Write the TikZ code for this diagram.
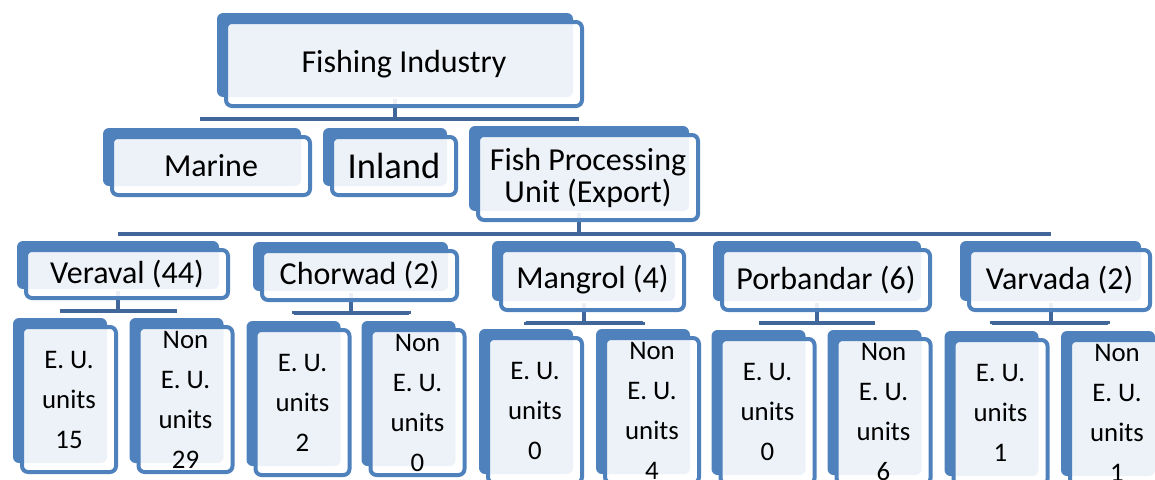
\documentclass[tikz,border=0pt]{standalone}
\usepackage{fontspec}
\setmainfont{Carlito}
\usetikzlibrary{shadows,backgrounds}
\definecolor{boxblue}{RGB}{79,129,189}
\definecolor{linkblue}{RGB}{64,102,154}

\begin{document}
\begin{tikzpicture}[x=1pt,y=-1pt,
unitbox/.style={draw=boxblue, line width=4pt, rounded corners=6pt, fill=white,
fill opacity=0.9, text opacity=1, inner sep=0pt, align=center,
copy shadow={shadow xshift=-9pt, shadow yshift=9pt, fill=boxblue, draw=none, fill opacity=1}},
rootbox/.style={unitbox, font=\fontsize{32}{32}\selectfont},
portbox/.style={unitbox, font=\fontsize{32}{32}\selectfont},
leafbox/.style={unitbox, font=\fontsize{26.8}{40}\selectfont,
minimum width=94pt, minimum height=145pt},
link/.style={draw=linkblue, line width=4pt, shorten >=5pt},
bk/.style={xshift=-9pt, yshift=9pt}
]
\useasboundingbox (0,0) rectangle (1155,479);

% top and branches
\node[rootbox, minimum width=356pt, minimum height=84pt] (fi) at (404,64) {Fishing Industry};
\node[rootbox, minimum width=198pt, minimum height=58pt] (marine) at (211,166) {Marine};
\node[rootbox, minimum width=124pt, minimum height=58pt, font=\fontsize{36.5}{38}\selectfont] (inland) at (394,166) {Inland};
\node[rootbox, minimum width=220pt, minimum height=85pt] (fpu) at (588,177.5) {Fish Processing\\Unit (Export)};

% ports
\node[portbox, minimum width=202pt, minimum height=48pt] (veraval) at (127,274) {Veraval (44)};
\node[portbox, minimum width=195pt, minimum height=49pt] (chorwad) at (359.5,275.5) {Chorwad (2)};
\node[portbox, minimum width=183pt, minimum height=60pt] (mangrol) at (592.5,280) {Mangrol (4)};
\node[portbox, minimum width=208pt, minimum height=60pt] (porbandar) at (826,280) {Porbandar (6)};
\node[portbox, minimum width=181pt, minimum height=60pt] (varvada) at (1059.5,280) {Varvada (2)};

% units
\node[leafbox] (veraval-eu) at (69,399.5) {E. U.\\units\\15};
\node[leafbox] (veraval-non) at (185.5,399.5) {Non\\E. U.\\units\\29};
\node[leafbox] (chorwad-eu) at (302.5,402.5) {E. U.\\units\\2};
\node[leafbox] (chorwad-non) at (417.5,402.5) {Non\\E. U.\\units\\0};
\node[leafbox] (mangrol-eu) at (535,410.5) {E. U.\\units\\0};
\node[leafbox] (mangrol-non) at (652,410.5) {Non\\E. U.\\units\\4};
\node[leafbox] (porbandar-eu) at (767.5,411.5) {E. U.\\units\\0};
\node[leafbox] (porbandar-non) at (883.5,411.5) {Non\\E. U.\\units\\6};
\node[leafbox] (varvada-eu) at (1000.5,412.5) {E. U.\\units\\1};
\node[leafbox] (varvada-non) at (1117,412.5) {Non\\E. U.\\units\\1};

\begin{scope}[on background layer]
\foreach \c in {marine,inland,fpu}
  \draw[link] ([bk]fi.south) -- ++(0,20) -| ([bk]\c.north);
\foreach \c in {veraval,chorwad,mangrol,porbandar,varvada}
  \draw[link] ([bk]fpu.south) -- ++(0,21) -| ([bk]\c.north);
\foreach \p in {veraval,chorwad,mangrol,porbandar,varvada}
  \foreach \s in {eu,non}
    \draw[link] ([bk]\p.south) -- ++(0,20) -| ([bk]\p-\s.north);
\end{scope}
\end{tikzpicture}
\end{document}
